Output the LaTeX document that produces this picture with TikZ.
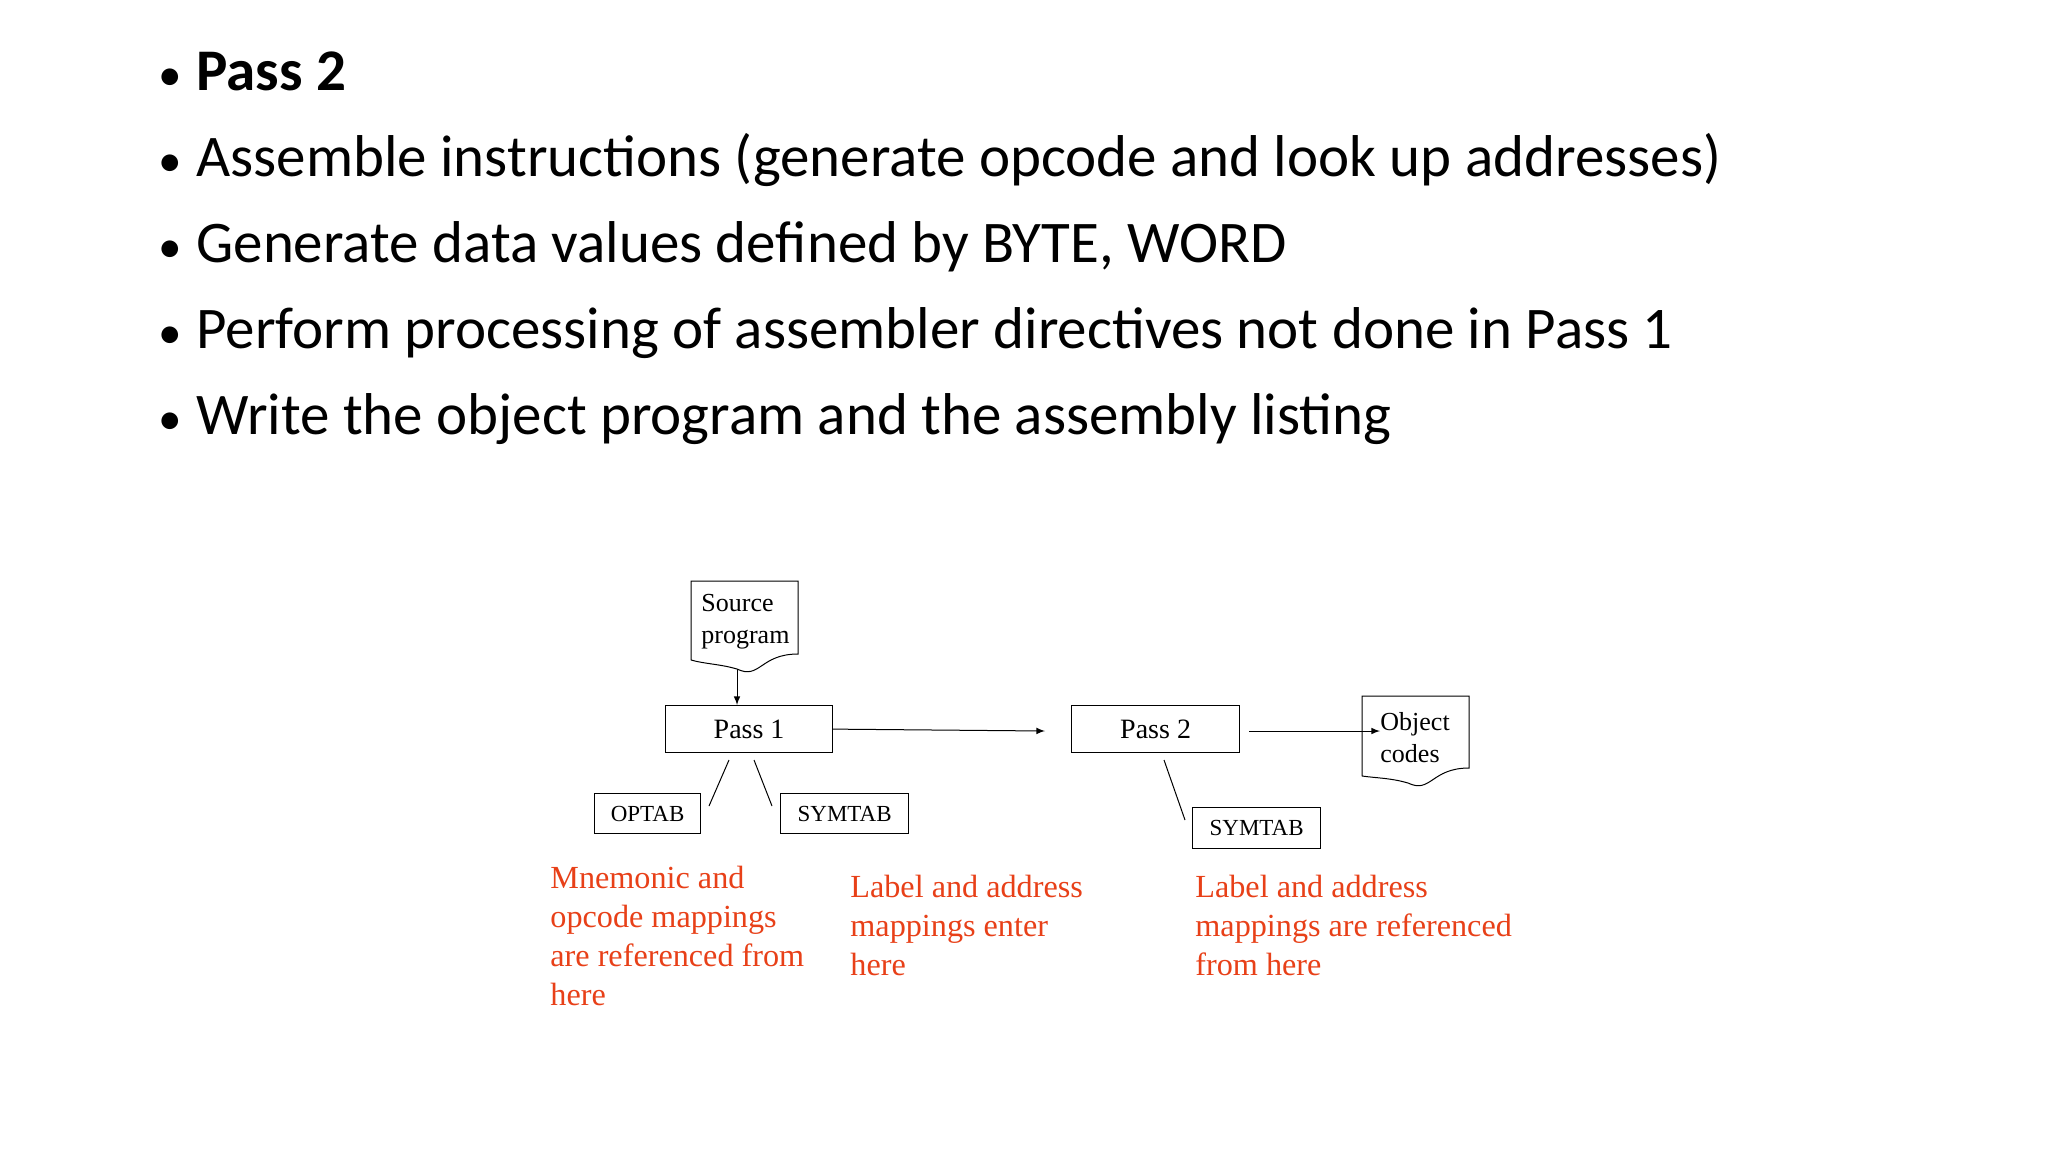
\documentclass[tikz,border=0pt]{standalone}
\usepackage{fontspec}
\setmainfont{Liberation Serif}
\newfontfamily\carlitofont{Carlito}
\definecolor{redtxt}{RGB}{232,64,24}
\begin{document}
\begin{tikzpicture}[x=0.5pt,y=-0.5pt,
  box/.style={draw,line width=0.6pt,rectangle,inner sep=0pt,anchor=north west},
  bul/.style={anchor=base west,font=\carlitofont\fontsize{29.5}{34}\selectfont,inner sep=0pt},
  red/.style={anchor=north west,align=left,inner sep=0pt,text=redtxt,font=\fontsize{16.1}{19.5}\selectfont},
  lbl/.style={font=\fontsize{11.5}{14}\selectfont},
  conn/.style={line width=0.5pt},
  arr/.style={conn,-latex}]
\useasboundingbox (0,0) rectangle (2048,1152);
\fill[white] (0,0) rectangle (2048,1152);
% bullets
\foreach \y/\t [count=\i] in {90/{\textbf{Pass 2}},176/{Assemble instructions (generate opcode and look up addresses)},262/{Generate data values defined by BYTE, WORD},348/{Perform processing of assembler directives not done in Pass 1},434/{Write the object program and the assembly listing}}{
  \node[bul] (b\i) at (158,\y) {\scalebox{0.8}{\textbullet}};
  \node[bul] (t\i) at (196,\y) {\t};
}
% documents
\node[inner sep=0pt, align=left, anchor=north west,font=\fontsize{13}{16}\selectfont] (src) at (701,594) {Source\\program};
\coordinate (s1) at (691,581); \coordinate (s2) at (798,581);
\draw[conn] (691,660) -- (s1) -- (s2) -- (798,654) .. controls (760,654) and (760,680) .. (737,669) .. controls (720,664) and (705,664) .. (691,660);
\node[inner sep=0pt,align=left,anchor=north west,font=\fontsize{13}{16}\selectfont] (obj) at (1380,712) {Object\\codes};
\draw[conn] (1362,776) -- (1362,696) -- (1469,696) -- (1469,768) .. controls (1431,768) and (1431,794) .. (1408,783) .. controls (1391,778) and (1376,778) .. (1362,776);
% boxes
\node[box,minimum width=83.5pt,minimum height=23.5pt,font=\fontsize{14}{16}\selectfont] (p1) at (665,705) {Pass 1};
\node[box,minimum width=84pt,minimum height=23.5pt,font=\fontsize{14}{16}\selectfont] (p2) at (1071,705) {Pass 2};
\node[box,lbl,minimum width=53pt,minimum height=20pt] (op) at (594,793) {OPTAB};
\node[box,lbl,minimum width=64pt,minimum height=20pt] (sy1) at (780,793) {SYMTAB};
\node[box,lbl,minimum width=64pt,minimum height=20.5pt] (sy2) at (1192,807) {SYMTAB};
% connectors
\coordinate (srcb) at (737,669);
\draw[arr] (srcb) -- (p1.north west -| srcb);
\coordinate (a1) at (1045,731);
\draw[arr] (p1.east) -- (a1);
\coordinate (a2) at (1249,731);
\draw[arr] (a2) -- (obj.west |- a2);
\coordinate (l1a) at (729,760); \coordinate (l1b) at (709,806);
\coordinate (l2a) at (754,760); \coordinate (l2b) at (772,806);
\coordinate (l3a) at (1164,760); \coordinate (l3b) at (1185,820);
\draw[conn] (l1a) -- (l1b); \draw[conn] (l2a) -- (l2b); \draw[conn] (l3a) -- (l3b);
% red text
\node[red] (r1) at (550,866) {Mnemonic and\\opcode mappings\\are referenced from\\here};
\node[red] (r2) at (850,875) {Label and address\\mappings enter\\here};
\node[red] (r3) at (1195,875) {Label and address\\mappings are referenced\\from here};
\end{tikzpicture}
\end{document}
